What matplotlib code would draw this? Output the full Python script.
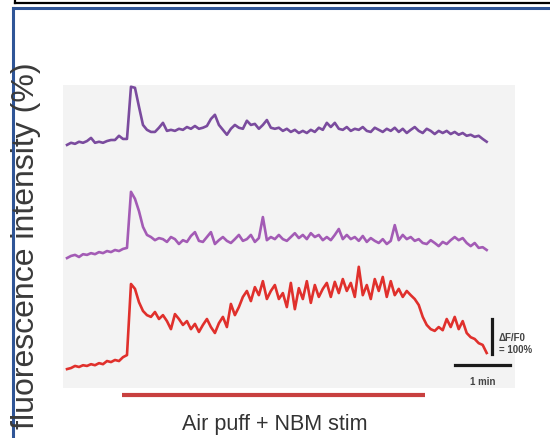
import numpy as np
import matplotlib
matplotlib.use("Agg")
import matplotlib.pyplot as plt
from matplotlib.lines import Line2D

# dF/F0 (%) per frame for each cell
frame_interval = 4.36  # s
dff_top = [0, 6, 3, 9, 6, 11, 20, 6, 9, 6, 11, 14, 14, 26, 17, 17,
           166, 163, 109, 57, 43, 37, 37, 49, 63, 40, 43, 40, 46, 43, 51, 46,
           54, 46, 49, 54, 74, 86, 57, 43, 29, 46, 57, 49, 46, 69, 57, 60,
           46, 57, 71, 49, 46, 49, 40, 46, 37, 43, 34, 40, 34, 43, 37, 49,
           43, 63, 51, 63, 46, 43, 51, 40, 46, 43, 51, 40, 37, 49, 43, 37,
           46, 40, 49, 37, 46, 34, 43, 51, 40, 34, 46, 40, 31, 40, 34, 40,
           31, 37, 29, 34, 26, 29, 23, 26, 17, 9]
dff_mid = [0, 6, 9, 3, 11, 9, 14, 11, 17, 14, 20, 17, 23, 20, 26, 29,
           189, 169, 134, 89, 66, 60, 51, 57, 54, 46, 60, 54, 40, 51, 46, 63,
           74, 49, 46, 60, 74, 40, 51, 60, 49, 43, 54, 66, 49, 54, 66, 46,
           57, 117, 51, 60, 54, 66, 54, 49, 60, 71, 57, 66, 54, 71, 60, 66,
           51, 60, 51, 66, 83, 54, 66, 54, 60, 49, 63, 46, 57, 49, 43, 54,
           40, 49, 94, 51, 66, 54, 60, 49, 54, 43, 40, 51, 43, 34, 46, 40,
           51, 60, 51, 57, 43, 34, 43, 29, 31, 23]
dff_bot = [0, 3, 9, 6, 11, 9, 14, 11, 17, 14, 23, 20, 26, 23, 34, 40,
           243, 229, 191, 166, 154, 149, 163, 143, 154, 137, 114, 157, 143, 126, 137, 114,
           129, 106, 126, 143, 120, 103, 131, 149, 120, 186, 154, 177, 206, 223, 194, 234,
           211, 251, 200, 223, 240, 200, 217, 177, 246, 171, 231, 200, 251, 189, 240, 206,
           229, 246, 206, 249, 217, 257, 223, 246, 206, 292, 211, 240, 200, 257, 223, 263,
           206, 251, 211, 229, 206, 223, 211, 200, 183, 149, 126, 114, 109, 120, 111, 143,
           120, 149, 114, 137, 103, 91, 86, 74, 69, 46]

# vertical stacking offsets (%)
offsets = [640, 317, 0]
colors = ["#7a4b9e", "#a35bb5", "#e0302c"]

stim_start, stim_end = 60, 390   # s
scale_t, scale_pct = 60, 100

fig = plt.figure(figsize=(5.5, 4.39), dpi=100)
W, H = 550, 439


# page frame lines, given in figure pixels
def fline(xs, ys, **kw):
    fig.add_artist(Line2D([x / W for x in xs], [1 - y / H for y in ys],
                          transform=fig.transFigure, **kw))


fline([15, 550], [4, 4], color="black", lw=1.6)
fline([15, 15], [0, 4], color="black", lw=1.6)
fline([13, 550], [8.5, 8.5], color="#2f5597", lw=2.2)
fline([13, 13], [8.5, 439], color="#2f5597", lw=2.2)

ax = fig.add_axes([63 / W, 1 - 389 / H, (515 - 63) / W, (389 - 86) / H])
ax.set_facecolor("#f3f3f3")
for s in ax.spines.values():
    s.set_visible(False)
ax.set_xticks([])
ax.set_yticks([])
ax.set_xlim(-4.4, 488.7)
ax.set_ylim(-54, 811)

for v, off, c in zip([dff_top, dff_mid, dff_bot], offsets, colors):
    t = np.arange(len(v)) * frame_interval
    ax.plot(t, np.array(v) + off, color=c, lw=1.9, solid_joinstyle="round")

# scale bars
ax.plot([464, 464], [43, 43 + scale_pct], color="#1a1a1a", lw=2.3, clip_on=False)
ax.plot([423, 423 + scale_t], [11, 11], color="#1a1a1a", lw=2.3, clip_on=False)
ax.text(471, 91, "ΔF/F0", fontsize=7, color="#444444", va="center", ha="left",
        family="Liberation Sans", fontweight="bold")
ax.text(471, 57, "= 100%", fontsize=7, color="#444444", va="center", ha="left",
        family="Liberation Sans", fontweight="bold")
ax.text(453, -34, "1 min", fontsize=7, color="#444444", va="center", ha="center",
        family="Liberation Sans", fontweight="bold")

# stimulation bar
ax.plot([stim_start, stim_end], [-74, -74], color="#c8403f", lw=3, clip_on=False,
        solid_capstyle="butt")

fig.text(275 / W, 1 - 425 / H, "Air puff + NBM stim", fontsize=15.5, color="#333333",
         ha="center", va="center", family="Liberation Sans")
fig.text(26 / W, 1 - 246 / H, "fluorescence intensity (%)", fontsize=23, color="#3a3a3a",
         rotation=90, ha="center", va="center", family="Liberation Sans")

fig.savefig("out.png", dpi=100)
